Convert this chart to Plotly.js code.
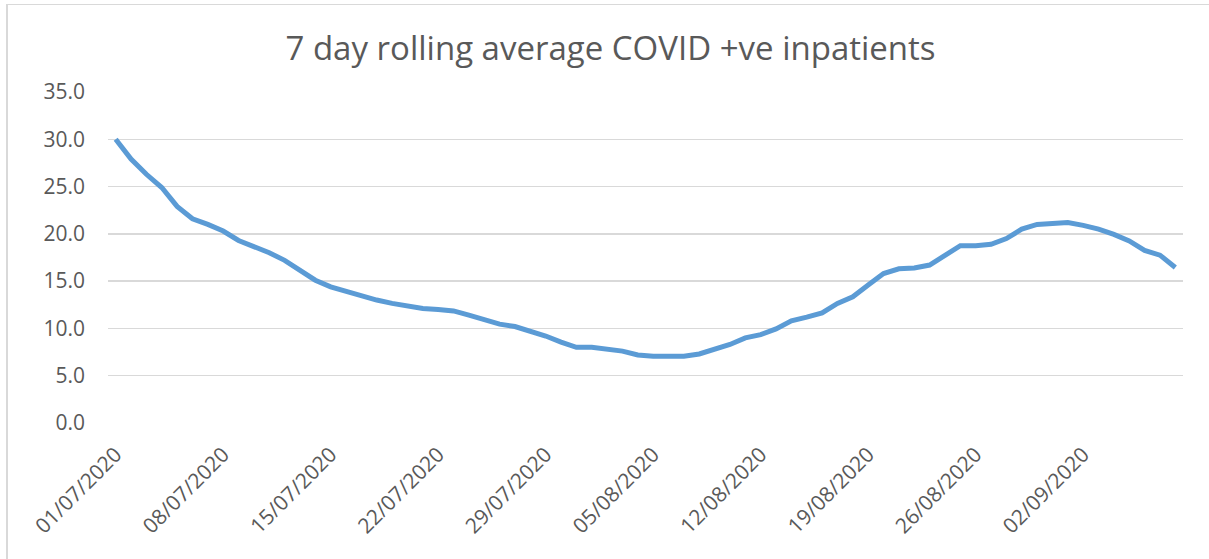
<!DOCTYPE html>
<html>
<head>
<meta charset="utf-8">
<script src="https://cdn.plot.ly/plotly-3.0.1.min.js"></script>
<style>
  html, body { margin: 0; padding: 0; background: #ffffff; }
  #wrap { position: relative; width: 1209px; height: 559px; overflow: hidden; }
  #chart { width: 1209px; height: 559px; }
  #frame { position: absolute; left: 6px; top: 4px; width: 1220px; height: 600px;
           border-left: 2px solid #d9d9d9; border-top: 1px solid #d9d9d9; pointer-events: none; }
</style>
</head>
<body>
<div id="wrap">
  <div id="chart"></div>
  <div id="frame"></div>
</div>
<script>
// Dates: one point per day from 01/07/2020
const startDate = '2020-07-01';
const dayCount = 70;

// 7 day rolling average of COVID +ve inpatients
const rollingAvg = [
  30.0, 27.9, 26.3, 24.9, 22.9, 21.6, 21.0, 20.3, 19.3, 18.7,
  18.0, 17.2, 16.2, 15.1, 14.4, 13.9, 13.4, 13.0, 12.65, 12.4,
  12.1, 12.0, 11.85, 11.4, 10.95, 10.45, 10.2, 9.75, 9.2, 8.55,
  8.0, 8.0, 7.85, 7.6, 7.2, 7.05, 7.05, 7.05, 7.3, 7.85,
  8.3, 9.0, 9.35, 9.95, 10.8, 11.2, 11.65, 12.65, 13.35, 14.6,
  15.8, 16.3, 16.4, 16.7, 17.65, 18.75, 18.75, 18.9, 19.5, 20.5,
  21.0, 21.1, 21.2, 20.9, 20.5, 19.95, 19.25, 18.25, 17.75, 16.45
];

const tickDates = ['2020-07-01','2020-07-08','2020-07-15','2020-07-22','2020-07-29',
                   '2020-08-05','2020-08-12','2020-08-19','2020-08-26','2020-09-02'];
const tickLabels = ['01/07/2020','08/07/2020','15/07/2020','22/07/2020','29/07/2020',
                    '05/08/2020','12/08/2020','19/08/2020','26/08/2020','02/09/2020'];
const yTicks = [0, 5, 10, 15, 20, 25, 30, 35];

function isoDay(base, add) {
  const d = new Date(base + 'T00:00:00Z');
  d.setUTCDate(d.getUTCDate() + add);
  return d.toISOString().slice(0, 10);
}
const dates = [];
for (let i = 0; i < dayCount; i++) dates.push(isoDay(startDate, i));

const trace = {
  x: dates,
  y: rollingAvg,
  type: 'scatter',
  mode: 'lines',
  line: { color: '#5B9BD5', width: 5, shape: 'linear' },
  hoverinfo: 'x+y'
};

const font = "'Open Sans', sans-serif";

const layout = {
  width: 1209,
  height: 559,
  margin: { l: 108, r: 26, t: 92, b: 136 },
  paper_bgcolor: '#ffffff',
  plot_bgcolor: '#ffffff',
  showlegend: false,
  title: {
    text: '7 day rolling average COVID +ve inpatients',
    font: { family: font, size: 33, color: '#595959' },
    x: 0.505, xanchor: 'center',
    yref: 'container',
    y: 0.914, yanchor: 'middle'
  },
  xaxis: {
    type: 'date',
    range: [isoDay(startDate, -1) + ' 12:00', isoDay(startDate, dayCount - 1) + ' 12:00'],
    tickmode: 'array',
    tickvals: tickDates,
    ticktext: tickLabels,
    tickangle: -45,
    showgrid: false,
    zeroline: false,
    showline: false,
    ticks: '',
    ticklabelstandoff: 14,
    tickfont: { family: font, size: 21, color: '#595959' }
  },
  yaxis: {
    range: [0, 35],
    tickmode: 'array',
    tickvals: yTicks,
    tickformat: '.1f',
    showgrid: true,
    gridcolor: '#d9d9d9',
    gridwidth: 1.3,
    zeroline: false,
    showline: false,
    ticks: '',
    ticklabelstandoff: 22,
    tickfont: { family: font, size: 21, color: '#595959' }
  }
};

Plotly.newPlot('chart', [trace], layout, { displayModeBar: false, staticPlot: true });
</script>
</body>
</html>
